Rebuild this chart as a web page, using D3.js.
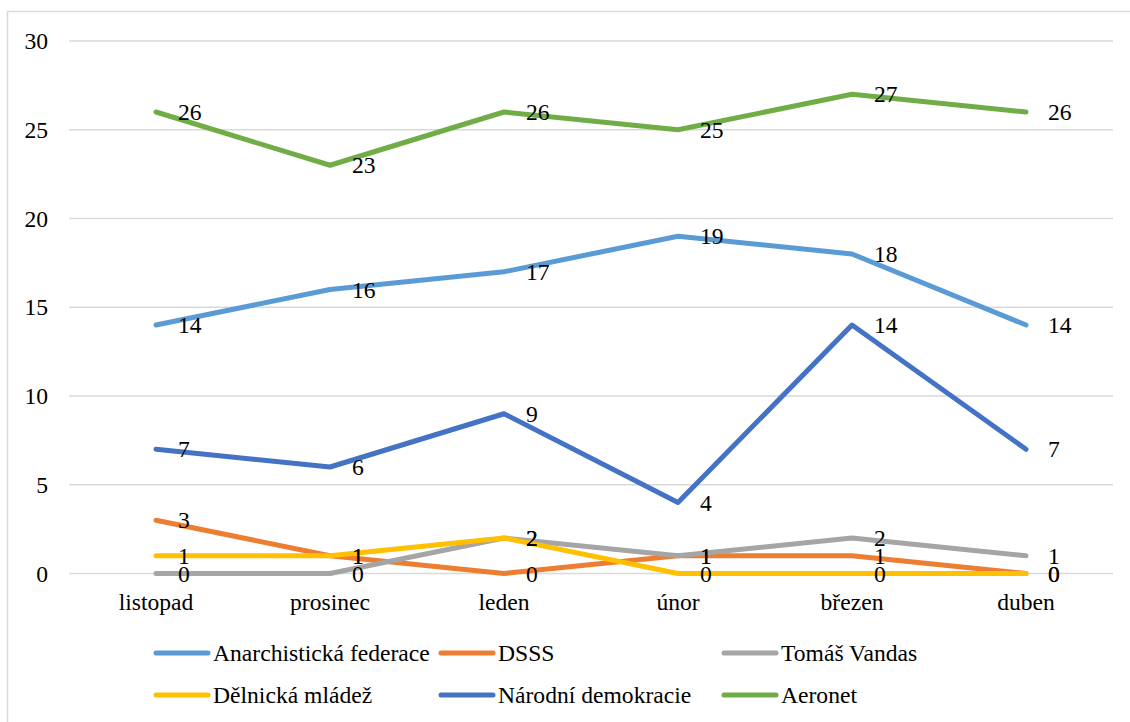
<!DOCTYPE html>
<html>
<head>
<meta charset="utf-8">
<script src="https://cdn.jsdelivr.net/npm/d3@7"></script>
<style>
html,body{margin:0;padding:0;background:#fff;}
svg{display:block;}
text{font-family:'Liberation Serif' !important;}
</style>
</head>
<body>
<svg id="chart" width="1130" height="722"></svg>
<script>
const categories = ["listopad","prosinec","leden","únor","březen","duben"];
const seriesNames = ["Anarchistická federace","DSSS","Tomáš Vandas","Dělnická mládež","Národní demokracie","Aeronet"];
const anarchisticka = [14,16,17,19,18,14];
const dsss = [3,1,0,1,1,0];
const vandas = [0,0,2,1,2,1];
const delnicka = [1,1,2,0,0,0];
const narodni = [7,6,9,4,14,7];
const aeronet = [26,23,26,25,27,26];
const yTicks = [0,5,10,15,20,25,30];
const colors = ["#5B9BD5","#ED7D31","#A5A5A5","#FFC000","#4472C4","#70AD47"];

const seriesValues = [anarchisticka, dsss, vandas, delnicka, narodni, aeronet];
const series = seriesNames.map((n,i)=>({name:n, values:seriesValues[i], color:colors[i]}));

const svg = d3.select("#chart");
const FS = 23.6;
const plotL = 69, plotR = 1113, plotT = 41, plotB = 573.5;

function txt(sel){
  return sel.attr("font-family","Liberation Serif").style("font-family","'Liberation Serif'")
    .attr("font-size",FS).attr("fill","#000");
}

svg.append("rect").attr("x",7.5).attr("y",11.5).attr("width",1200).attr("height",800)
  .attr("fill","none").attr("stroke","#D9D9D9").attr("stroke-width",1.5);

const x = d3.scaleBand().domain(categories).range([plotL, plotR]);
const y = d3.scaleLinear().domain([0,30]).range([plotB, plotT]);

svg.append("g").selectAll("line").data(yTicks).join("line")
  .attr("x1",plotL).attr("x2",plotR)
  .attr("y1",d=>y(d)).attr("y2",d=>y(d))
  .attr("stroke","#D9D9D9").attr("stroke-width",1.3);

txt(svg.append("g").selectAll("text").data(yTicks).join("text")
  .attr("x",48).attr("y",d=>y(d)+8).attr("text-anchor","end"))
  .text(d=>d);

txt(svg.append("g").selectAll("text").data(categories).join("text")
  .attr("x",d=>x(d)+x.bandwidth()/2).attr("y",610).attr("text-anchor","middle"))
  .text(d=>d);

const line = d3.line()
  .x((d,i)=>x(categories[i])+x.bandwidth()/2)
  .y(d=>y(d));

svg.append("g").selectAll("path").data(series).join("path")
  .attr("d",s=>line(s.values))
  .attr("fill","none").attr("stroke",s=>s.color)
  .attr("stroke-width",5).attr("stroke-linecap","round").attr("stroke-linejoin","round");

const lg = svg.append("g");
series.forEach(s=>{
  txt(lg.selectAll(null).data(s.values).join("text")
    .attr("x",(d,i)=>x(categories[i])+x.bandwidth()/2+22)
    .attr("y",d=>y(d)+8))
    .text(d=>d);
});

const legX = [156, 441, 724];
const legY = [653, 695];
const leg = svg.append("g");
series.forEach((s,i)=>{
  const cx = legX[i%3], cy = legY[Math.floor(i/3)];
  leg.append("line").attr("x1",cx).attr("x2",cx+52).attr("y1",cy).attr("y2",cy)
    .attr("stroke",s.color).attr("stroke-width",5).attr("stroke-linecap","round");
  txt(leg.append("text").attr("x",cx+57).attr("y",cy+8)).text(s.name);
});
</script>
</body>
</html>
